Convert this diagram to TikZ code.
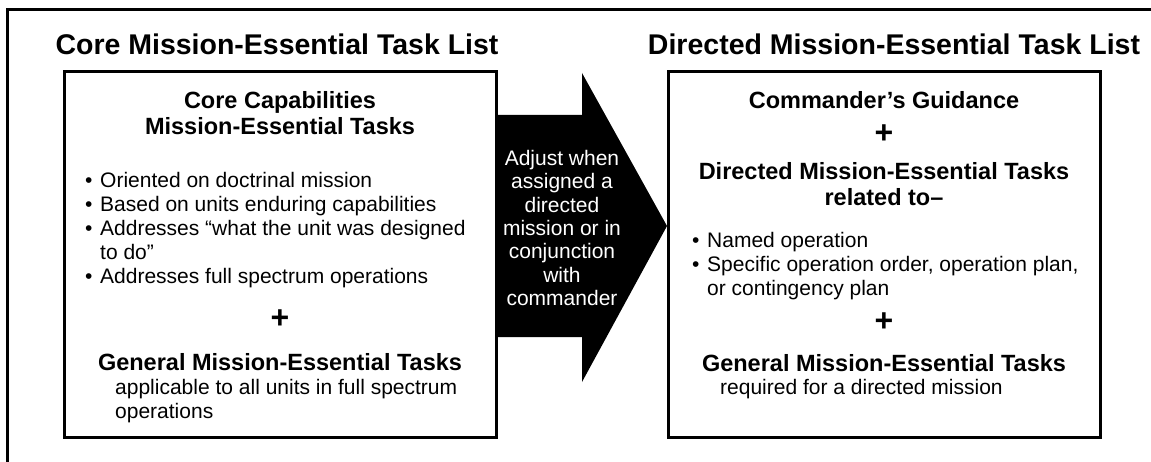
\documentclass[tikz,border=0pt]{standalone}
\usepackage{fontspec}
\setmainfont{Liberation Sans}
\begin{document}
\begin{tikzpicture}[x=1pt,y=-1pt,
  frame/.style={line width=3pt, draw=black},
  box/.style={draw=black, line width=3pt, minimum width=432pt, minimum height=365pt, inner sep=0pt},
  ttl/.style={font=\fontsize{28.5}{32}\selectfont\bfseries, anchor=base, inner sep=0pt},
  hd/.style={font=\fontsize{23.5}{26}\selectfont\bfseries, anchor=base, inner sep=0pt},
  txt/.style={font=\fontsize{21}{24}\selectfont, anchor=base west, inner sep=0pt},
  plus/.style={font=\fontsize{32}{32}\selectfont\bfseries, anchor=center, inner sep=0pt},
  arrowtxt/.style={font=\fontsize{21}{23.3}\selectfont, text=white, align=center, inner sep=0pt}
]
\useasboundingbox (0,0) rectangle (1151,462);
% outer frame (top and left edges)
\coordinate (fTL) at (7,10);
\coordinate (fTR) at (1151,10);
\coordinate (fBL) at (7,462);
\draw[frame] (fTR) -- (fTL) -- (fBL);

% titles
\node[ttl] (tl) at (277,55) {Core Mission-Essential Task List};
\node[ttl] (tr) at (894,55) {Directed Mission-Essential Task List};

% big arrow
\fill[black] (496,115) -- (582,115) -- (582,73) -- (667,226) -- (582,382) -- (582,337) -- (496,337) -- cycle;
\node[arrowtxt] (at) at (562,228) {Adjust when\\assigned a\\directed\\mission or in\\conjunction\\with\\commander};

% boxes
\node[box] (lbox) at (280,254.5) {};
\node[box] (rbox) at (884,254.5) {};

% left box content
\node[hd] (l1) at (280,109) {Core Capabilities};
\node[hd] (l2) at (280,135) {Mission-Essential Tasks};
\node[txt] (lb1) at (85,187.5) {•};
\node[txt] (lt1) at (100,187.5) {Oriented on doctrinal mission};
\node[txt] (lb2) at (85,211.5) {•};
\node[txt] (lt2) at (100,211.5) {Based on units enduring capabilities};
\node[txt] (lb3) at (85,235.5) {•};
\node[txt] (lt3) at (100,235.5) {Addresses “what the unit was designed};
\node[txt] (lt3b) at (100,259.5) {to do”};
\node[txt] (lb4) at (85,283.5) {•};
\node[txt] (lt4) at (100,283.5) {Addresses full spectrum operations};
\node[plus] (lp) at (280,319) {+};
\node[hd] (l3) at (280,370) {General Mission-Essential Tasks};
\node[txt] (l4) at (115,394.5) {applicable to all units in full spectrum};
\node[txt] (l5) at (115,418.5) {operations};

% right box content
\node[hd] (r1) at (884,109) {Commander’s Guidance};
\node[plus] (rp1) at (884,134) {+};
\node[hd] (r2) at (884,180) {Directed Mission-Essential Tasks};
\node[hd] (r3) at (884,206) {related to–};
\node[txt] (rb1) at (692,247.5) {•};
\node[txt] (rt1) at (707,247.5) {Named operation};
\node[txt] (rb2) at (692,271.5) {•};
\node[txt] (rt2) at (707,271.5) {Specific operation order, operation plan,};
\node[txt] (rt2b) at (707,295.5) {or contingency plan};
\node[plus] (rp2) at (884,322) {+};
\node[hd] (r4) at (884,371) {General Mission-Essential Tasks};
\node[txt] (r5) at (720,394.5) {required for a directed mission};
\end{tikzpicture}
\end{document}
